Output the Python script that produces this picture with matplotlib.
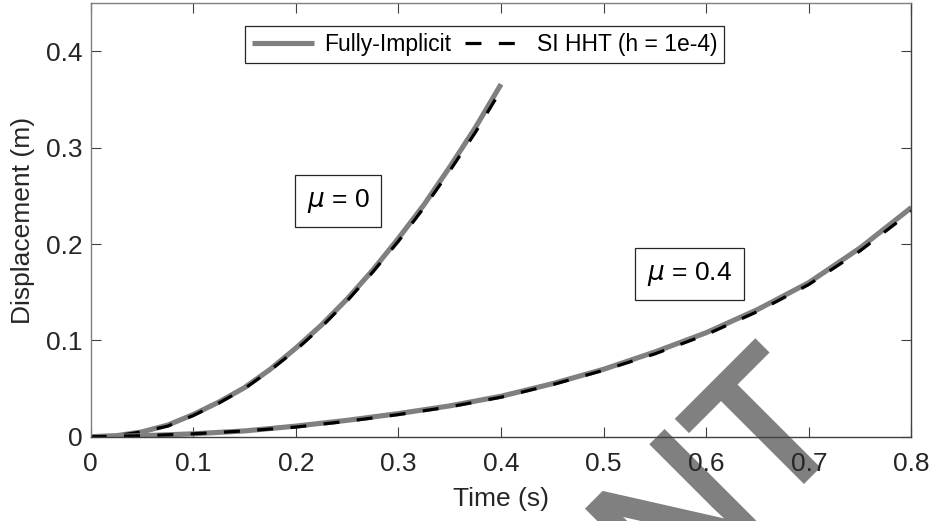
import matplotlib
matplotlib.use("Agg")
import matplotlib.pyplot as plt
import matplotlib.patheffects as pe

# ---------------------------------------------------------------
# data
# ---------------------------------------------------------------
t_mu0 = [0.000, 0.025, 0.050, 0.075, 0.100, 0.125, 0.150, 0.175, 0.200,
         0.225, 0.250, 0.275, 0.300, 0.325, 0.350, 0.375, 0.400]
fi_mu0 = [0.000, 0.001, 0.005, 0.012, 0.023, 0.036, 0.051, 0.070, 0.092,
          0.116, 0.143, 0.173, 0.206, 0.241, 0.280, 0.321, 0.366]
si_mu0 = [0.000, 0.001, 0.005, 0.011, 0.022, 0.035, 0.050, 0.069, 0.090,
          0.114, 0.141, 0.171, 0.203, 0.238, 0.276, 0.316, 0.360]

t_mu4 = [0.00, 0.05, 0.10, 0.15, 0.20, 0.25, 0.30, 0.35, 0.40,
         0.45, 0.50, 0.55, 0.60, 0.65, 0.70, 0.75, 0.80]
fi_mu4 = [0.000, 0.001, 0.003, 0.006, 0.011, 0.017, 0.024, 0.032, 0.042,
          0.055, 0.070, 0.088, 0.108, 0.132, 0.160, 0.196, 0.238]
si_mu4 = [0.000, 0.001, 0.003, 0.006, 0.010, 0.016, 0.023, 0.031, 0.041,
          0.054, 0.069, 0.086, 0.106, 0.130, 0.158, 0.193, 0.234]

x_ticks = [0, 0.1, 0.2, 0.3, 0.4, 0.5, 0.6, 0.7, 0.8]
y_ticks = [0, 0.1, 0.2, 0.3, 0.4]

plt.rcParams["font.family"] = ["Liberation Sans", "DejaVu Sans"]
plt.rcParams["mathtext.fontset"] = "dejavusans"
plt.rcParams["lines.scale_dashes"] = False

TXT = "#262626"
FS = 19      # axes font
FS_LEG = 16.5
WM = "#808080"

fig = plt.figure(figsize=(9.33, 5.21), dpi=100, facecolor="white")
ax = fig.add_axes([0.0972, 0.1618, 0.8797, 0.8319])
ax.set_facecolor("none")

# watermark, partly cut by the figure edge
fig.text(671 / 933, -92 / 521, "NT", rotation=45, rotation_mode="anchor",
         ha="left", va="baseline", fontsize=138, color=WM, zorder=-1,
         path_effects=[pe.withStroke(linewidth=4, foreground=WM,
                                     joinstyle="miter")])

gray_kw = dict(color="#808080", lw=3.7, solid_capstyle="butt")
dash_kw = dict(color="black", lw=2.3, ls="--", dashes=(11.5, 12.5),
               dash_capstyle="butt")

ax.plot(t_mu0, fi_mu0, label="Fully-Implicit", **gray_kw)
ax.plot(t_mu0, si_mu0, label="SI HHT (h = 1e-4)", **dash_kw)
ax.plot(t_mu4, fi_mu4, **gray_kw)
ax.plot(t_mu4, si_mu4, **dash_kw)

ax.set_xlim(0, 0.8)
ax.set_ylim(0, 0.45)
ax.set_xticks(x_ticks)
ax.set_xticklabels([f"{v:g}" for v in x_ticks])
ax.set_yticks(y_ticks)
ax.set_yticklabels([f"{v:g}" for v in y_ticks])

ax.tick_params(direction="in", length=7.5, width=0.8, colors="#404040",
               labelcolor=TXT, labelsize=FS, top=True, right=True)
ax.tick_params(axis="x", pad=11)
ax.tick_params(axis="y", pad=6)
for side, c in (("left", "#7f7f7f"), ("top", "#7f7f7f"),
                ("bottom", "#404040"), ("right", "#404040")):
    ax.spines[side].set_color(c)
    ax.spines[side].set_linewidth(1.0)

ax.set_xlabel("Time (s)", fontsize=FS, color=TXT, labelpad=8)
ax.set_ylabel("Displacement (m)", fontsize=FS, color=TXT, labelpad=8)

leg = ax.legend(loc="center", bbox_to_anchor=(0.48, 0.905), ncol=2,
                fontsize=FS_LEG, frameon=True, fancybox=False, framealpha=1,
                edgecolor="#262626", handlelength=2.7, handletextpad=0.45,
                columnspacing=0.6, borderpad=0.3, borderaxespad=0)
leg.get_frame().set_linewidth(0.9)
for txt in leg.get_texts():
    txt.set_color("black")

box = dict(boxstyle="square,pad=0.45", fc="white", ec="#262626", lw=0.9)
ax.text(0.241, 0.2445, r"$\mu$ = 0", fontsize=FS, ha="center", va="center",
        bbox=box)
ax.text(0.584, 0.169, r"$\mu$ = 0.4", fontsize=FS, ha="center", va="center",
        bbox=box)

fig.savefig("out.png", dpi=100, facecolor="white")
